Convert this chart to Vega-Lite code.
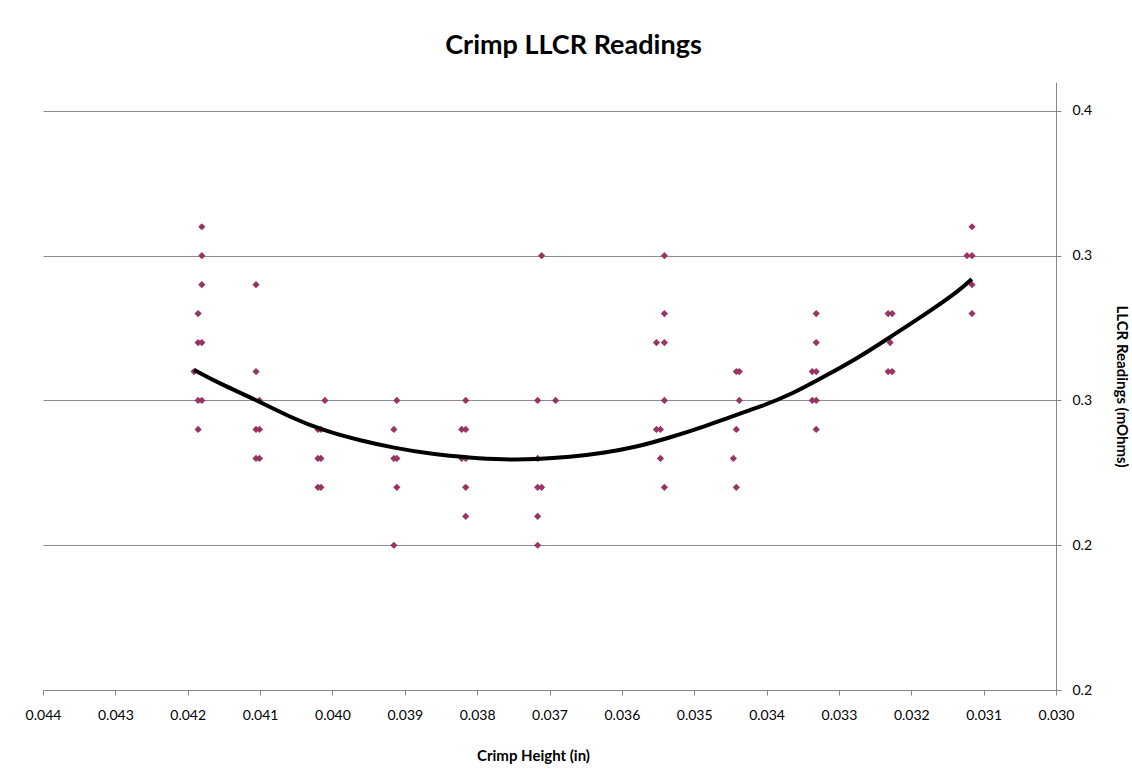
{
  "$schema": "https://vega.github.io/schema/vega-lite/v6.json",
  "autosize": "none",
  "width": 1013,
  "height": 608,
  "padding": {"left": 43, "top": 82, "right": 76, "bottom": 85},
  "background": "white",
  "config": {
    "font": "Lato",
    "view": {"stroke": null},
    "axis": {"labelFont": "Lato", "titleFont": "Lato", "labelColor": "#000000", "titleColor": "#000000"}
  },
  "title": {
    "text": "Crimp LLCR Readings",
    "fontSize": 27,
    "fontWeight": "bold",
    "font": "Lato",
    "color": "#000000",
    "anchor": "middle",
    "dx": 24,
    "offset": 22
  },
  "datasets": {
    "readings": [
      {"height": 0.041805, "llcr": 0.31},
      {"height": 0.041805, "llcr": 0.30},
      {"height": 0.041805, "llcr": 0.29},
      {"height": 0.041856, "llcr": 0.28},
      {"height": 0.041856, "llcr": 0.27},
      {"height": 0.041805, "llcr": 0.27},
      {"height": 0.041912, "llcr": 0.26},
      {"height": 0.041856, "llcr": 0.25},
      {"height": 0.041805, "llcr": 0.25},
      {"height": 0.041856, "llcr": 0.24},
      {"height": 0.041056, "llcr": 0.29},
      {"height": 0.041056, "llcr": 0.26},
      {"height": 0.041008, "llcr": 0.25},
      {"height": 0.041056, "llcr": 0.24},
      {"height": 0.041008, "llcr": 0.24},
      {"height": 0.041056, "llcr": 0.23},
      {"height": 0.041008, "llcr": 0.23},
      {"height": 0.040104, "llcr": 0.25},
      {"height": 0.040200, "llcr": 0.24},
      {"height": 0.040159, "llcr": 0.24},
      {"height": 0.040200, "llcr": 0.23},
      {"height": 0.040159, "llcr": 0.23},
      {"height": 0.040200, "llcr": 0.22},
      {"height": 0.040159, "llcr": 0.22},
      {"height": 0.039110, "llcr": 0.25},
      {"height": 0.039151, "llcr": 0.24},
      {"height": 0.039151, "llcr": 0.23},
      {"height": 0.039110, "llcr": 0.23},
      {"height": 0.039110, "llcr": 0.22},
      {"height": 0.039151, "llcr": 0.20},
      {"height": 0.038158, "llcr": 0.25},
      {"height": 0.038213, "llcr": 0.24},
      {"height": 0.038158, "llcr": 0.24},
      {"height": 0.038213, "llcr": 0.23},
      {"height": 0.038158, "llcr": 0.23},
      {"height": 0.038158, "llcr": 0.22},
      {"height": 0.038158, "llcr": 0.21},
      {"height": 0.037109, "llcr": 0.30},
      {"height": 0.037164, "llcr": 0.25},
      {"height": 0.036916, "llcr": 0.25},
      {"height": 0.037164, "llcr": 0.23},
      {"height": 0.037164, "llcr": 0.22},
      {"height": 0.037109, "llcr": 0.22},
      {"height": 0.037164, "llcr": 0.21},
      {"height": 0.037164, "llcr": 0.20},
      {"height": 0.035412, "llcr": 0.30},
      {"height": 0.035412, "llcr": 0.28},
      {"height": 0.035522, "llcr": 0.27},
      {"height": 0.035412, "llcr": 0.27},
      {"height": 0.035412, "llcr": 0.25},
      {"height": 0.035522, "llcr": 0.24},
      {"height": 0.035467, "llcr": 0.24},
      {"height": 0.035467, "llcr": 0.23},
      {"height": 0.035412, "llcr": 0.22},
      {"height": 0.034418, "llcr": 0.26},
      {"height": 0.034377, "llcr": 0.26},
      {"height": 0.034377, "llcr": 0.25},
      {"height": 0.034418, "llcr": 0.24},
      {"height": 0.034459, "llcr": 0.23},
      {"height": 0.034418, "llcr": 0.22},
      {"height": 0.033314, "llcr": 0.28},
      {"height": 0.033314, "llcr": 0.27},
      {"height": 0.033369, "llcr": 0.26},
      {"height": 0.033314, "llcr": 0.26},
      {"height": 0.033369, "llcr": 0.25},
      {"height": 0.033314, "llcr": 0.25},
      {"height": 0.033314, "llcr": 0.24},
      {"height": 0.032320, "llcr": 0.28},
      {"height": 0.032265, "llcr": 0.28},
      {"height": 0.032292, "llcr": 0.27},
      {"height": 0.032320, "llcr": 0.26},
      {"height": 0.032265, "llcr": 0.26},
      {"height": 0.031161, "llcr": 0.31},
      {"height": 0.031230, "llcr": 0.30},
      {"height": 0.031161, "llcr": 0.30},
      {"height": 0.031161, "llcr": 0.29},
      {"height": 0.031161, "llcr": 0.28}
    ],
    "trend": [
      {"height": 0.041912, "llcr": 0.26059},
      {"height": 0.041553, "llcr": 0.25576},
      {"height": 0.041056, "llcr": 0.25024},
      {"height": 0.040587, "llcr": 0.24424},
      {"height": 0.040127, "llcr": 0.23966},
      {"height": 0.039620, "llcr": 0.23621},
      {"height": 0.039161, "llcr": 0.23369},
      {"height": 0.038609, "llcr": 0.23138},
      {"height": 0.038102, "llcr": 0.23024},
      {"height": 0.037642, "llcr": 0.22955},
      {"height": 0.037182, "llcr": 0.22966},
      {"height": 0.036722, "llcr": 0.23045},
      {"height": 0.036262, "llcr": 0.23183},
      {"height": 0.035801, "llcr": 0.23390},
      {"height": 0.035342, "llcr": 0.23714},
      {"height": 0.034882, "llcr": 0.24079},
      {"height": 0.034421, "llcr": 0.24507},
      {"height": 0.034099, "llcr": 0.24769},
      {"height": 0.033640, "llcr": 0.25231},
      {"height": 0.033179, "llcr": 0.25862},
      {"height": 0.032719, "llcr": 0.26493},
      {"height": 0.032260, "llcr": 0.27241},
      {"height": 0.031799, "llcr": 0.27990},
      {"height": 0.031339, "llcr": 0.28793},
      {"height": 0.031164, "llcr": 0.29197}
    ]
  },
  "encoding": {
    "x": {
      "field": "height",
      "type": "quantitative",
      "scale": {"domain": [0.030, 0.044], "reverse": true, "nice": false, "zero": false},
      "axis": {
        "orient": "bottom",
        "title": "Crimp Height (in)",
        "values": [0.030, 0.031, 0.032, 0.033, 0.034, 0.035, 0.036, 0.037, 0.038, 0.039, 0.040, 0.041, 0.042, 0.043, 0.044],
        "format": ".3f",
        "grid": false,
        "domainColor": "#868686",
        "tickColor": "#868686",
        "tickSize": 5,
        "labelFontSize": 14,
        "labelPadding": 13,
        "labelFlush": false,
        "titleFontSize": 15,
        "titleFontWeight": "bold",
        "titlePadding": 26,
        "titleX": 490
      }
    },
    "y": {
      "field": "llcr",
      "type": "quantitative",
      "scale": {"domain": [0.15, 0.36], "nice": false, "zero": false},
      "axis": {
        "orient": "right",
        "title": "LLCR Readings (mOhms)",
        "values": [0.15, 0.20, 0.25, 0.30, 0.35],
        "labelExpr": "format(datum.value + 0.0001, '.1f')",
        "grid": true,
        "gridColor": "#8c8c8c",
        "gridWidth": 1,
        "domainColor": "#868686",
        "tickColor": "#868686",
        "tickSize": 5,
        "labelFontSize": 14,
        "labelPadding": 11,
        "labelFlush": false,
        "titleFontSize": 15,
        "titleFontWeight": "bold",
        "titlePadding": 22
      }
    }
  },
  "layer": [
    {
      "data": {"name": "readings"},
      "mark": {"type": "point", "shape": "diamond", "filled": true, "size": 52, "color": "#993366", "opacity": 1}
    },
    {
      "data": {"name": "trend"},
      "mark": {"type": "line", "color": "#000000", "strokeWidth": 4, "interpolate": "basis"}
    }
  ]
}
